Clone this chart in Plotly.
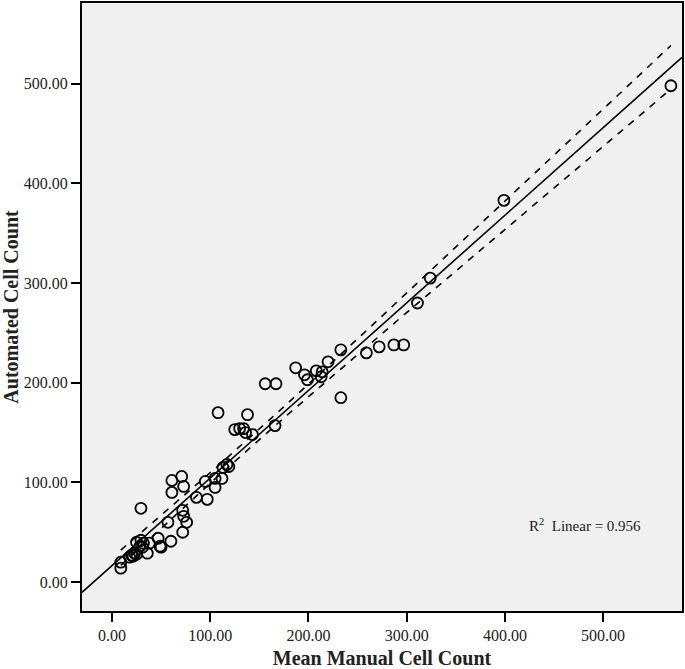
import numpy as np
import plotly.graph_objects as go

manual = [569, 399, 324, 311, 233, 220, 259, 272, 287, 297, 187, 196, 199, 208, 214, 213,
          233, 167, 156, 166, 108, 138, 125, 130, 134, 136, 143, 117, 113, 119, 112, 105,
          95, 105, 61, 71, 61, 73, 29.5, 86, 97, 72, 73, 76, 72, 57, 60, 47, 49, 50, 38,
          36, 25, 29.5, 32, 28.5, 31, 23, 20, 18, 21.5, 25, 9, 9]
automated = [498, 383, 305, 280, 233, 221, 230, 236, 238, 238, 215, 208, 203, 212, 211, 206,
             185, 199, 199, 157, 170, 168, 153, 154, 154, 150, 148, 118, 115, 116, 104, 104,
             101, 95, 102, 106, 90, 96, 74, 85, 83, 72, 66, 60, 50, 60, 41, 44, 36, 35, 39,
             29, 40, 42, 39, 36, 35, 29, 27, 25, 26, 28, 20, 14]
tick_vals = [0, 100, 200, 300, 400, 500]
x_range = [-30.5, 580.3]
y_range = [-29, 581]
r2_label = "R<sup>2</sup>  Linear = 0.956"

x = np.array(manual, dtype=float)
y = np.array(automated, dtype=float)
n = len(x)
b, a = np.polyfit(x, y, 1)
resid = y - (a + b * x)
s = np.sqrt(np.sum(resid ** 2) / (n - 2))
sxx = np.sum((x - x.mean()) ** 2)
t_crit = 1.999

xl = np.array(x_range)
xc = np.linspace(x.min(), x.max(), 200)
fit_c = a + b * xc
half = t_crit * s * np.sqrt(1.0 / n + (xc - x.mean()) ** 2 / sxx)

font = "Liberation Serif, Times New Roman, serif"
fig = go.Figure()
fig.add_trace(go.Scatter(x=xc, y=fit_c + half, mode="lines",
                         line=dict(color="black", width=1.6, dash="7px,7px"), hoverinfo="skip"))
fig.add_trace(go.Scatter(x=xc, y=fit_c - half, mode="lines",
                         line=dict(color="black", width=1.6, dash="7px,7px"), hoverinfo="skip"))
fig.add_trace(go.Scatter(x=xl, y=a + b * xl, mode="lines",
                         line=dict(color="black", width=1.6), hoverinfo="skip"))
fig.add_trace(go.Scatter(x=manual, y=automated, mode="markers",
                         marker=dict(symbol="circle-open", size=11, color="black",
                                     line=dict(width=1.8, color="black"))))

fig.add_annotation(x=422, y=57, xanchor="left", yanchor="middle", text=r2_label,
                   showarrow=False, font=dict(family=font, size=15, color="#222"))

fig.update_layout(
    width=685, height=669,
    margin=dict(l=82, r=2, t=1, b=58),
    paper_bgcolor="white", plot_bgcolor="#f0f0f0",
    showlegend=False,
    font=dict(family=font, color="#222"),
)
fig.update_xaxes(range=x_range, tickvals=tick_vals, tickformat=".2f", showgrid=False,
                 zeroline=False, showline=True, linecolor="black", linewidth=2, mirror=True,
                 ticks="outside", ticklen=9, tickwidth=2, tickcolor="black",
                 tickfont=dict(family=font, size=16, color="#222"),
                 title=dict(text="<b>Mean Manual Cell Count</b>", standoff=10,
                            font=dict(family=font, size=20, color="#222")))
fig.update_yaxes(range=y_range, tickvals=tick_vals, tickformat=".2f", showgrid=False,
                 zeroline=False, showline=True, linecolor="black", linewidth=2, mirror=True,
                 ticks="outside", ticklen=9, tickwidth=2, tickcolor="black",
                 tickfont=dict(family=font, size=16, color="#222"),
                 title=dict(text="<b>Automated Cell Count</b>", standoff=6,
                            font=dict(family=font, size=20, color="#222")))

fig.write_html("out.html", config={"displayModeBar": False},
               post_script="document.body.style.margin='0';document.body.style.padding='0';")
